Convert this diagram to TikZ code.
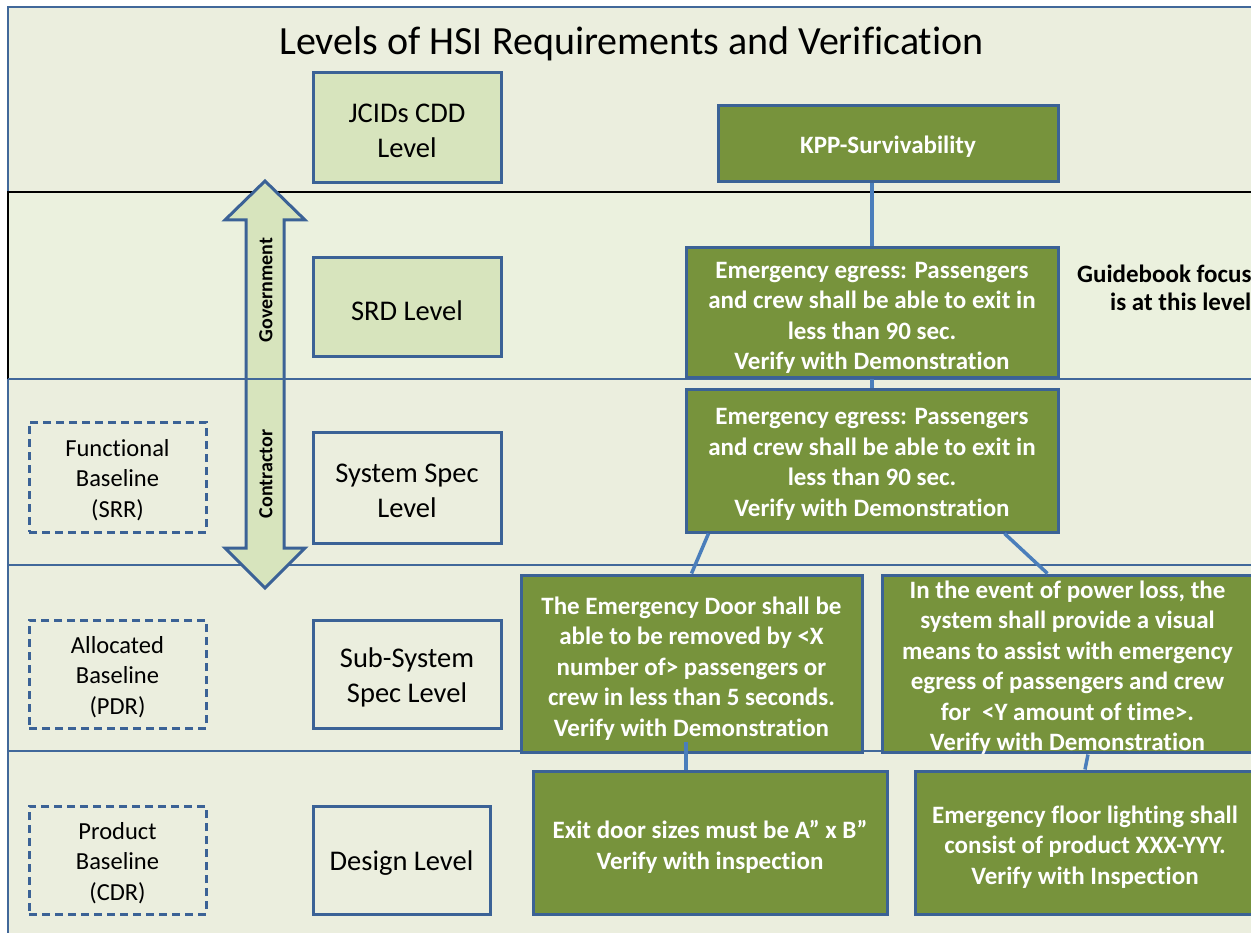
\documentclass[tikz,border=0pt]{standalone}
\usepackage{fontspec}
\setmainfont{Carlito}[Ligatures=NoCommon]
\definecolor{bandA}{HTML}{EBEEDE}
\definecolor{bandB}{HTML}{EBF1DE}
\definecolor{lineblue}{HTML}{41689A}
\definecolor{boxblue}{HTML}{3B6296}
\definecolor{olivebox}{HTML}{77933C}
\definecolor{palegreen}{HTML}{D7E4BD}
\definecolor{connblue}{HTML}{4A7EBB}
\tikzset{
  lvlbox/.style={draw=boxblue, line width=3pt, fill=palegreen, minimum width=188pt, inner sep=0pt},
  plainbox/.style={lvlbox, fill=bandA},
  lvltext/.style={inner sep=0pt, align=center, yshift=-3pt, font=\fontsize{28.5}{35}\selectfont},
  basebox/.style={draw=boxblue, line width=3pt, dash pattern=on 8pt off 5pt, minimum width=177pt, minimum height=109pt, inner sep=0pt},
  basetext/.style={inner sep=0pt, align=center, yshift=-3pt, font=\fontsize{24.5}{30.5}\selectfont},
  gbox/.style={draw=boxblue, line width=3pt, fill=olivebox, inner sep=0pt},
  gtext/.style={text=white, inner sep=0pt, align=center, font=\fontsize{25}{30.5}\selectfont\bfseries},
  connector/.style={draw=connblue, line width=3.5pt},
  bandline/.style={draw=lineblue, line width=1.5pt},
  arrowlabel/.style={rotate=90, inner sep=0pt, font=\fontsize{20}{24}\selectfont\bfseries}
}
\begin{document}
\begin{tikzpicture}[x=1pt,y=-1pt]
\useasboundingbox (0,0) rectangle (1251,933);
\clip (0,0) rectangle (1251,933);
% bands
\fill[bandA] (8,7) rectangle (1262,192);
\fill[bandB] (8,192) rectangle (1262,379);
\fill[bandA] (8,379) rectangle (1262,945);
\draw[bandline] (8,945) -- (8,379);
\draw[bandline] (8,192) -- (8,7) -- (1262,7);
\draw[black, line width=1.5pt] (8,379) -- (8,192) -- (1262,192);
\draw[bandline] (8,565) -- (1262,565);
\draw[bandline] (8,751) -- (1262,751);
% double arrow
\filldraw[fill=palegreen, draw=boxblue, line width=3pt, line join=miter]
  (265,181) -- (305,220) -- (284,220) -- (284,548) -- (305,548) -- (265,588)
  -- (225,548) -- (246,548) -- (246,220) -- (225,220) -- cycle;
\draw[bandline] (8,379) -- (1262,379);
\node[arrowlabel] (gov) at (266,290) {Government};
\node[arrowlabel] (con) at (266,474) {Contractor};
% title
\node[inner sep=0pt, font=\fontsize{40}{48}\selectfont] (title) at (631.5,44) {Levels of HSI Requirements and Verification};
% level boxes
\node[lvlbox, minimum height=110pt] (jcids) at (407,128) {};
\node[lvltext] (jcidst) at (jcids) {JCIDs CDD\\Level};
\node[lvlbox, minimum height=99pt] (srdl) at (407,307.5) {};
\node[lvltext] (srdlt) at (srdl) {SRD Level};
\node[plainbox, minimum height=111pt] (sysl) at (407,488) {};
\node[lvltext] (syslt) at (sysl) {System Spec\\Level};
\node[plainbox, minimum height=108pt] (subl) at (407,674) {};
\node[lvltext] (sublt) at (subl) {Sub-System\\Spec Level};
\node[plainbox, minimum width=177pt, minimum height=108pt] (desl) at (401.5,860) {};
\node[lvltext] (deslt) at (desl) {Design Level};
% baselines
\node[basebox, minimum height=110pt] (fb) at (117.5,477) {};
\node[basetext] (fbt) at (fb) {Functional\\Baseline\\(SRR)};
\node[basebox, minimum height=108pt] (ab) at (117.5,674) {};
\node[basetext] (abt) at (ab) {Allocated\\Baseline\\(PDR)};
\node[basebox, minimum height=108pt] (pb) at (117.5,860) {};
\node[basetext] (pbt) at (pb) {Product\\Baseline\\(CDR)};
% green requirement boxes
\node[gbox, minimum width=340pt, minimum height=76pt] (kpp) at (888,144) {};
\node[gtext] (kppt) at (888,147) {KPP-Survivability};
\node[gbox, minimum width=372pt, minimum height=130pt] (srd) at (872,313) {};
\node[gtext] (srdt) at (872,318) {Emergency egress: Passengers\\and crew shall be able to exit in\\less than 90 sec.\\Verify with Demonstration};
\node[gbox, minimum width=372pt, minimum height=142pt] (sys) at (872,461) {};
\node[gtext] (syst) at (872,464.5) {Emergency egress: Passengers\\and crew shall be able to exit in\\less than 90 sec.\\Verify with Demonstration};
\node[gbox, minimum width=341pt, minimum height=177pt] (sub1) at (691.5,663.5) {};
\node[gtext] (sub1t) at (691.5,668.5) {The Emergency Door shall be\\able to be removed by <X\\number of> passengers or\\crew in less than 5 seconds.\\Verify with Demonstration};
\node[gbox, minimum width=371pt, minimum height=177pt] (sub2) at (1067.5,663.5) {};
\node[gtext] (sub2t) at (1067.5,667.5) {In the event of power loss, the\\system shall provide a visual\\means to assist with emergency\\egress of passengers and crew\\for\ \ <Y amount of time>.\\Verify with Demonstration};
\node[gbox, minimum width=354pt, minimum height=143pt] (des1) at (710,842.5) {};
\node[gtext] (des1t) at (710,847) {Exit door sizes must be A” x B”\\Verify with inspection};
\node[gbox, minimum width=340pt, minimum height=143pt] (des2) at (1085,842.5) {};
\node[gtext] (des2t) at (1085,847) {Emergency floor lighting shall\\consist of product XXX-YYY.\\Verify with Inspection};
% side note
\node[anchor=west, inner sep=0pt, align=left, font=\fontsize{25}{28}\selectfont\bfseries] (guide) at (1077,288) {Guidebook focus\\\hspace*{33pt}is at this level};
% connectors
\draw[connector] (srd.north |- kpp.south) -- (srd.north);
\draw[connector] (srd.south) -- (sys.north);
\draw[connector] ([xshift=24pt]sys.south west) -- (sub1.north);
\draw[connector] ([xshift=-55pt]sys.south east) -- ([xshift=-20pt]sub2.north);
\draw[connector] ([xshift=-5.5pt, yshift=12pt]sub1.south) -- ([xshift=-24pt]des1.north);
\draw[connector] ([xshift=20.5pt, yshift=-1pt]sub2.south) -- (des2.north);
\end{tikzpicture}
\end{document}
